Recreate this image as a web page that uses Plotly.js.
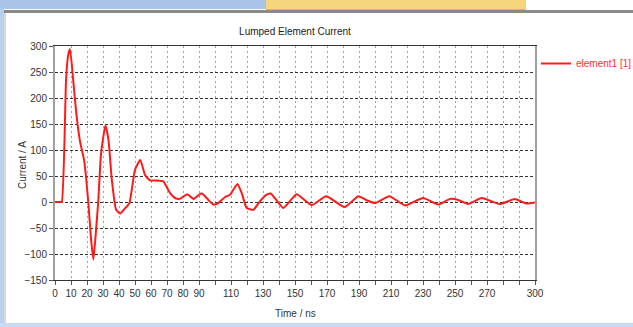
<!DOCTYPE html>
<html>
<head>
<meta charset="utf-8">
<script src="https://cdn.plot.ly/plotly-3.0.1.min.js"></script>
<style>
  html, body { margin:0; padding:0; background:#ffffff; }
  #wrap { position:relative; width:633px; height:327px; overflow:hidden; background:#fff; }
  .chrome { position:absolute; }
  #plot { position:absolute; left:0; top:0; width:633px; height:327px; }
</style>
</head>
<body>
<div id="wrap">
  <div class="chrome" style="left:0;top:0;width:266px;height:9px;background:#a8c4ea;"></div>
  <div class="chrome" style="left:266px;top:0;width:260px;height:9px;background:#f6d67c;border-bottom:1px solid #e0b850;"></div>
  <div class="chrome" style="left:526px;top:0;width:107px;height:9px;background:#ffffff;"></div>
  <div class="chrome" style="left:4px;top:10px;width:629px;height:3px;background:#8a8a8a;"></div>
  <div class="chrome" style="left:0;top:9px;width:4px;height:318px;background:#b9d0ee;"></div>
  <div class="chrome" style="left:4px;top:13px;width:2px;height:314px;background:#d8d8d8;"></div>
  <div class="chrome" style="left:0;top:323px;width:633px;height:4px;background:#c9dbf2;"></div>
  <div id="plot"></div>
</div>
<script>
// Time (ns) and current (A)
const timeNs = [0, 3, 4.2, 6.9, 8.2, 9.4, 11.5, 13.5, 15.6, 18.2, 20.8, 22.5, 24, 25.5, 27, 28.8, 31.5, 33.4, 35.5, 38.2, 40.7, 43.8, 46.5, 50, 53.3, 56.25, 59.4, 63.5, 67.7, 71.9, 75, 78, 82.7, 86.5, 91.7, 95.8, 99, 102, 106.3, 109.4, 114, 116.7, 119.8, 124, 128, 132.3, 135, 142.7, 151, 160.4, 169.5, 181, 189.6, 195, 200, 209, 218.75, 230, 239.6, 246.9, 252, 258.3, 266.7, 278, 287.5, 294.8, 300];
const currentA = [0, 0, 0, 235, 282, 294, 230, 165, 117, 80, 0, -70, -111, -60, 0, 94, 147, 120, 43, -15, -22, -12, -2, 62, 81, 52, 41.5, 41.5, 39.7, 17, 7.7, 6, 15, 5.8, 17, 4, -5, -2, 9.6, 14, 34.6, 17, -11.5, -15, 1, 14, 16, -11.5, 15, -6, 11, -9.6, 11, 3, -2, 11, -6.5, 7.7, -5, 6, 4, -4, 7.7, -4, 5.8, -3, -1];
const seriesName = "element1 [1]";
const titleText = "Lumped Element Current";
const xTitle = "Time / ns";
const yTitle = "Current / A";
const xTickVals = [0,10,20,30,40,50,60,70,80,90,100,110,120,130,140,150,160,170,180,190,200,210,220,230,240,250,260,270,280,290,300];
const xTickText = ["0","10","20","30","40","50","60","70","80","90","","110","","130","","150","","170","","190","","210","","230","","250","","270","","","300"];
const yTickVals = [-150,-100,-50,0,50,100,150,200,250,300];

const FONT = "'Liberation Sans Narrow', 'Liberation Sans', Arial, sans-serif";

const trace = {
  x: timeNs, y: currentA, type: 'scatter', mode: 'lines', name: seriesName,
  line: { color: '#ff1a1a', width: 2, shape: 'spline', smoothing: 0.45 }
};

const layout = {
  width: 633, height: 327,
  margin: { l: 55, r: 98, t: 46, b: 47 },
  paper_bgcolor: 'rgba(0,0,0,0)', plot_bgcolor: '#ffffff',
  font: { family: FONT, size: 10, color: '#333' },
  title: { text: titleText, font: { family: FONT, size: 10, color: '#222' }, x: 0.466, xref: 'container', y: 0.905, yref: 'container', yanchor: 'middle' },
  showlegend: true,
  legend: { xref: 'container', yref: 'container', x: 536 / 633, y: 1 - 49 / 327, xanchor: 'left', yanchor: 'top', bgcolor: 'rgba(0,0,0,0)', font: { family: FONT, size: 10, color: '#ff3030' }, itemwidth: 30 },
  xaxis: {
    range: [0, 300], tickmode: 'array', tickvals: xTickVals, ticktext: xTickText,
    showgrid: true, gridcolor: '#a0a0a0', griddash: '2px,3px', gridwidth: 1,
    showline: true, linecolor: '#333', linewidth: 1, mirror: true,
    ticks: 'outside', ticklen: 4, tickcolor: '#555',
    zeroline: false, tickfont: { family: FONT, size: 10, color: '#333' }
  },
  yaxis: {
    range: [-150, 300], tickmode: 'array', tickvals: yTickVals,
    showgrid: true, gridcolor: '#333', griddash: '3px,2px', gridwidth: 1,
    showline: true, linecolor: '#a0a0a0', linewidth: 2, mirror: true,
    ticks: 'outside', ticklen: 4, tickcolor: '#555',
    zeroline: false, tickfont: { family: FONT, size: 10, color: '#333' }
  },
  annotations: [
    { text: yTitle, xref: 'paper', yref: 'paper', x: (22 - 55) / 480, y: (280 - 165) / 234, textangle: -90, showarrow: false, font: { family: FONT, size: 10, color: '#333' }, xanchor: 'center', yanchor: 'middle' },
    { text: xTitle, xref: 'paper', yref: 'paper', x: (295 - 55) / 480, y: (280 - 313) / 234, showarrow: false, font: { family: FONT, size: 10, color: '#333' }, xanchor: 'center', yanchor: 'middle' }
  ]
};

Plotly.newPlot('plot', [trace], layout, { displayModeBar: false, staticPlot: true });
</script>
</body>
</html>
